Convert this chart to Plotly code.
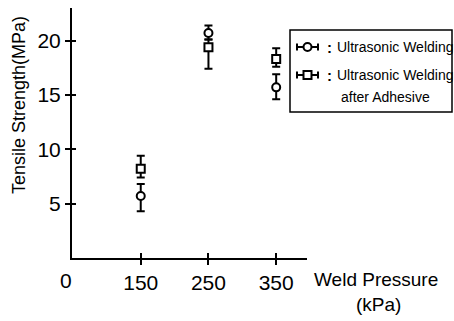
import plotly.graph_objects as go

# ---- data ----
pressure = [150, 250, 350]
uw_mean = [5.7, 20.7, 15.7]
uw_high = [6.8, 21.4, 16.9]
uw_low = [4.3, 20.1, 14.6]
uwa_mean = [8.2, 19.4, 18.3]
uwa_high = [9.4, 20.1, 19.3]
uwa_low = [7.4, 17.4, 17.6]
x_ticks = [150, 250, 350]
y_ticks = [5, 10, 15, 20]
legend_labels = ["Ultrasonic Welding", "Ultrasonic Welding<br>after Adhesive"]

FONT = "Liberation Sans, Arial, sans-serif"
W, H = 454, 321
L, R, T, B = 72, 147, 8, 63
PW, PH = W - L - R, H - T - B


def px(x):
    return (x - L) / PW


def py(y):
    return (H - B - y) / PH


def err(mean, hi, lo):
    return dict(type="data", symmetric=False,
                array=[h - m for h, m in zip(hi, mean)],
                arrayminus=[m - l for m, l in zip(mean, lo)],
                color="black", thickness=2, width=4)


fig = go.Figure()
fig.add_trace(go.Scatter(x=pressure, y=uw_mean, mode="markers",
                         error_y=err(uw_mean, uw_high, uw_low),
                         marker=dict(symbol="circle", size=8, color="white",
                                     line=dict(color="black", width=2)),
                         name=legend_labels[0], showlegend=False))
fig.add_trace(go.Scatter(x=pressure, y=uwa_mean, mode="markers",
                         error_y=err(uwa_mean, uwa_high, uwa_low),
                         marker=dict(symbol="square", size=8, color="white",
                                     line=dict(color="black", width=2)),
                         name=legend_labels[1], showlegend=False))

xr = [48.5, 395.5]
yr = [0, 23]
axis_common = dict(showgrid=False, zeroline=False, linecolor="black",
                   linewidth=2, tickcolor="black", tickwidth=2)
fig.update_layout(
    width=W, height=H,
    margin=dict(l=L, r=R, t=T, b=B),
    paper_bgcolor="white", plot_bgcolor="white",
    font=dict(family=FONT, color="black"),
    xaxis=dict(range=xr, tickvals=x_ticks, ticks="outside", ticklen=5,
               showline=True, tickfont=dict(size=21, family=FONT), **axis_common),
    yaxis=dict(range=yr, tickvals=y_ticks, ticks="outside", ticklen=5,
               showline=True, tickfont=dict(size=21, family=FONT), **axis_common),
    xaxis2=dict(range=xr, tickvals=x_ticks, ticks="inside", ticklen=5,
                overlaying="x", showticklabels=False, showline=False,
                showgrid=False, zeroline=False, tickcolor="black", tickwidth=2),
    yaxis2=dict(range=yr, tickvals=y_ticks, ticks="inside", ticklen=4,
                overlaying="y", showticklabels=False, showline=False,
                showgrid=False, zeroline=False, tickcolor="black", tickwidth=2),
)
# invisible trace to activate overlay axes for cross ticks
fig.add_trace(go.Scatter(x=[None], y=[None], xaxis="x2", yaxis="y2",
                         showlegend=False, hoverinfo="skip"))

ann = []
ann.append(dict(text="0", x=px(66), y=py(280), xref="paper", yref="paper",
                showarrow=False, font=dict(size=21, family=FONT),
                xanchor="center", yanchor="middle"))
ann.append(dict(text="Tensile Strength(MPa)", x=px(19), y=py(105), xref="paper",
                yref="paper", showarrow=False, textangle=-90,
                font=dict(size=18, family=FONT), xanchor="center", yanchor="middle"))
ann.append(dict(text="Weld Pressure", x=px(376), y=py(279), xref="paper",
                yref="paper", showarrow=False, font=dict(size=19, family=FONT),
                xanchor="center", yanchor="middle"))
ann.append(dict(text="(kPa)", x=px(378), y=py(304), xref="paper",
                yref="paper", showarrow=False, font=dict(size=19, family=FONT),
                xanchor="center", yanchor="middle"))

# legend drawn manually
shapes = []
shapes.append(dict(type="rect", xref="paper", yref="paper",
                   x0=px(290), x1=px(452), y0=py(112), y1=py(30),
                   line=dict(color="black", width=1.5), fillcolor="white", layer="below"))
rows = [(47, "circle", legend_labels[0].split("<br>")[0]),
        (75, "square", legend_labels[1].split("<br>")[0])]
for yy, sym, txt in rows:
    shapes.append(dict(type="line", xref="paper", yref="paper",
                       x0=px(297), x1=px(318), y0=py(yy), y1=py(yy),
                       line=dict(color="black", width=2)))
    for xc in (297, 318):
        shapes.append(dict(type="line", xref="paper", yref="paper",
                           x0=px(xc), x1=px(xc), y0=py(yy - 3.5), y1=py(yy + 3.5),
                           line=dict(color="black", width=2)))
    shapes.append(dict(type="circle" if sym == "circle" else "rect",
                       xref="paper", yref="paper",
                       x0=px(303.5), x1=px(311.5), y0=py(yy + 4), y1=py(yy - 4),
                       line=dict(color="black", width=2), fillcolor="white"))
    ann.append(dict(text="<b>:</b>", x=px(329), y=py(yy), xref="paper", yref="paper",
                    showarrow=False, font=dict(size=15, family=FONT),
                    xanchor="center", yanchor="middle"))
    ann.append(dict(text=txt, x=px(335), y=py(yy), xref="paper", yref="paper",
                    showarrow=False, font=dict(size=14, family=FONT),
                    xanchor="left", yanchor="middle"))
ann.append(dict(text=legend_labels[1].split("<br>")[1], x=px(339), y=py(97),
                xref="paper", yref="paper", showarrow=False,
                font=dict(size=14, family=FONT), xanchor="left", yanchor="middle"))

fig.update_layout(annotations=ann, shapes=shapes)
fig.write_html("out.html", config={"displayModeBar": False},
               post_script="document.body.style.margin='0px';document.body.style.padding='0px';")
